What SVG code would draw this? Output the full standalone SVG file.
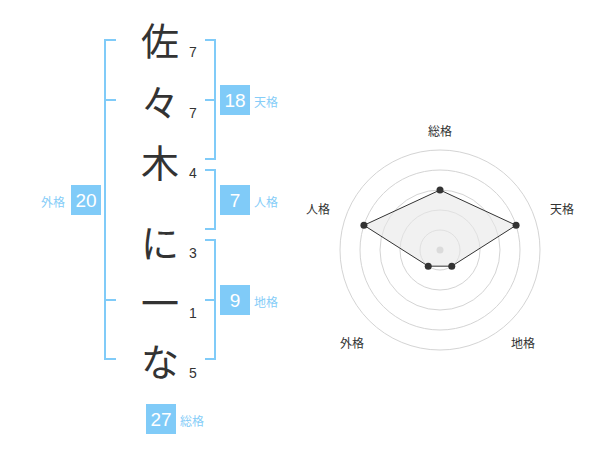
<svg xmlns="http://www.w3.org/2000/svg" width="600" height="470" viewBox="0 0 600 470">
<style>
.ch{font-family:"Noto Sans CJK JP","Noto Sans CJK SC",sans-serif;font-size:38px;fill:#333;text-anchor:middle;dominant-baseline:central}
.num{font-family:"Liberation Sans",Arial,sans-serif;font-size:14px;fill:#333;text-anchor:middle}
.br{fill:none;stroke:#80cbf8;stroke-width:2}
.box{fill:#80cbf8}
.bt{font-family:"Liberation Sans",Arial,sans-serif;font-size:19px;fill:#fff;text-anchor:middle;dominant-baseline:central}
.lb{font-family:"Noto Sans CJK JP","Noto Sans CJK SC",sans-serif;font-size:12px;fill:#86cdf8;dominant-baseline:central}
.rl{font-family:"Noto Sans CJK JP","Noto Sans CJK SC",sans-serif;font-size:12px;fill:#333;text-anchor:middle;dominant-baseline:central}
.ring{fill:none;stroke:#d4d4d4;stroke-width:1}
.dot{fill:#333}
</style>
<g id="chars">
<g id="c1"><text class="ch" x="160" y="38">佐</text><text class="num" x="193" y="57">7</text></g>
<g id="c2"><text class="ch" x="160" y="100">々</text><text class="num" x="193" y="118">7</text></g>
<g id="c3"><text class="ch" x="160" y="160">木</text><text class="num" x="193" y="178">4</text></g>
<g id="c4"><text class="ch" x="160" y="240">に</text><text class="num" x="193" y="258">3</text></g>
<g id="c5"><text class="ch" x="160" y="300">一</text><text class="num" x="193" y="318">1</text></g>
<g id="c6"><text class="ch" x="160" y="359">な</text><text class="num" x="193" y="378">5</text></g>
</g>
<g id="connectors">
<path class="br" d="M116,40 H105 V359 H116 M105,100 H116 M105,300 H116"/>
<path class="br" d="M205,40 H215 V159 H205 M215,100 H205"/>
<path class="br" d="M205,170 H215 V229 H205"/>
<path class="br" d="M205,240 H215 V359 H205 M215,300 H205"/>
</g>
<g id="tenkaku"><rect class="box" x="220" y="85" width="30" height="30"/><text class="bt" x="235" y="100">18</text><text class="lb" x="254" y="101">天格</text></g>
<g id="jinkaku"><rect class="box" x="220" y="185" width="30" height="30"/><text class="bt" x="235" y="200">7</text><text class="lb" x="254" y="201">人格</text></g>
<g id="chikaku"><rect class="box" x="220" y="285" width="30" height="30"/><text class="bt" x="235" y="300">9</text><text class="lb" x="254" y="301">地格</text></g>
<g id="gaikaku"><rect class="box" x="71" y="185" width="30" height="30"/><text class="bt" x="86" y="200">20</text><text class="lb" x="41" y="201">外格</text></g>
<g id="soukaku"><rect class="box" x="146" y="404" width="30" height="30"/><text class="bt" x="161" y="419">27</text><text class="lb" x="180" y="420">総格</text></g>
<g id="radar">
<circle class="ring" cx="440" cy="250" r="20"/>
<circle class="ring" cx="440" cy="250" r="40"/>
<circle class="ring" cx="440" cy="250" r="60"/>
<circle class="ring" cx="440" cy="250" r="80"/>
<circle class="ring" cx="440" cy="250" r="100"/>
<circle cx="440" cy="250" r="3.5" fill="#c8c8c8"/>
<polygon points="440,190 516.08,225.28 451.76,266.18 428.24,266.18 363.92,225.28" fill="#e8e8e8" fill-opacity="0.6" stroke="#333" stroke-width="1"/>
<circle class="dot" cx="440" cy="190" r="3.5"/>
<circle class="dot" cx="516.08" cy="225.28" r="3.5"/>
<circle class="dot" cx="451.76" cy="266.18" r="3.5"/>
<circle class="dot" cx="428.24" cy="266.18" r="3.5"/>
<circle class="dot" cx="363.92" cy="225.28" r="3.5"/>
<text class="rl" x="440" y="130">総格</text>
<text class="rl" x="562" y="208">天格</text>
<text class="rl" x="523" y="342">地格</text>
<text class="rl" x="352" y="342">外格</text>
<text class="rl" x="318" y="208">人格</text>
</g>
</svg>
